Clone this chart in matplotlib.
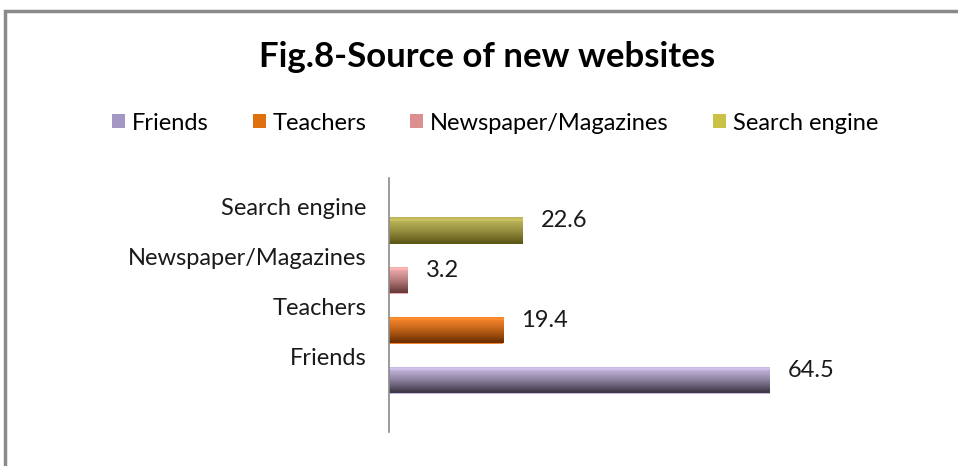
import matplotlib.pyplot as plt
import numpy as np
from matplotlib.colors import to_rgb
from matplotlib.patches import Patch, Rectangle

# ---------------------------------------------------------------------------- #
# DATA

categories = ["Friends", "Teachers", "Newspaper/Magazines", "Search engine"]
values = [64.5, 19.4, 3.2, 22.6]

# light (top) and dark (bottom) shade of every bar
light_colors = ["#c4b6de", "#f6842a", "#eeaaaa", "#bdb55a"]
dark_colors = ["#3f3848", "#6e3000", "#6a3c3c", "#5e5818"]
legend_colors = ["#a497c4", "#e0700e", "#dc8f8f", "#c9c245"]

# ---------------------------------------------------------------------------- #
# FIGURE

W, H = 958, 466
fig = plt.figure(figsize=(W / 100, H / 100), dpi=100)
plt.rcParams['font.family'] = ['Lato', 'DejaVu Sans']

# grey chart frame (only top and left edges are visible)
fig.patches.append(Rectangle((5 / W, -0.2), 1.2, (H - 11) / H + 0.2,
                             transform=fig.transFigure, fill=False,
                             edgecolor="#8a8a8a", linewidth=2.5))

fig.text(487 / W, 1 - 57 / H, "Fig.8-Source of new websites",
         ha="center", va="center", fontsize=25, fontweight="bold")

ax = fig.add_axes([389 / W, (H - 432) / H, 480 / W, 254 / H])
pos = np.arange(len(categories))
bars = ax.barh(pos, values, height=0.54, color=light_colors)

# vertical shading on each bar
for bar, c1, c2 in zip(bars, light_colors, dark_colors):
    x0, y0 = bar.get_x(), bar.get_y()
    w, h = bar.get_width(), bar.get_height()
    t = np.linspace(0, 1, 64)
    t = np.clip(t * 1.1 - 0.05, 0, 1) ** 1.3
    a, b = np.array(to_rgb(c1)), np.array(to_rgb(c2))
    grad = a[None, :] * (1 - t[:, None]) + b[None, :] * t[:, None]
    # lighter band near the top edge
    grad[4:10] = np.minimum(grad[4:10] * 1.08, 1)
    img = ax.imshow(grad[:, None, :], extent=[x0, x0 + w, y0, y0 + h],
                    aspect="auto", zorder=2, interpolation="bilinear")
    img.set_clip_path(bar)

ax.set_xlim(0, 480 / 5.9)
ax.set_ylim(-1.04, 4.04)

# value labels
for p, v in zip(pos, values):
    ax.annotate(f"{v}", (v, p), xytext=(13, 7), textcoords="offset points",
                ha="left", va="center", fontsize=17, color="#1a1a1a")

# category labels sit a bit above the bars
ax.set_yticks(pos + 0.47)
ax.set_yticklabels(categories, fontsize=17, color="#1a1a1a")
ax.tick_params(axis="y", length=0, pad=16)
ax.set_xticks([])

for s in ["top", "right", "bottom"]:
    ax.spines[s].set_visible(False)
ax.spines["left"].set_color("#8a8a8a")
ax.spines["left"].set_linewidth(1.2)

handles = [Patch(facecolor=c, edgecolor="none") for c in legend_colors]
fig.legend(handles, categories, loc="center", ncol=4,
           bbox_to_anchor=(495 / W, 1 - 123 / H), frameon=False,
           fontsize=17, handlelength=0.55, handleheight=0.55,
           handletextpad=0.3, columnspacing=1.85)

fig.savefig("out.png", dpi=100)
